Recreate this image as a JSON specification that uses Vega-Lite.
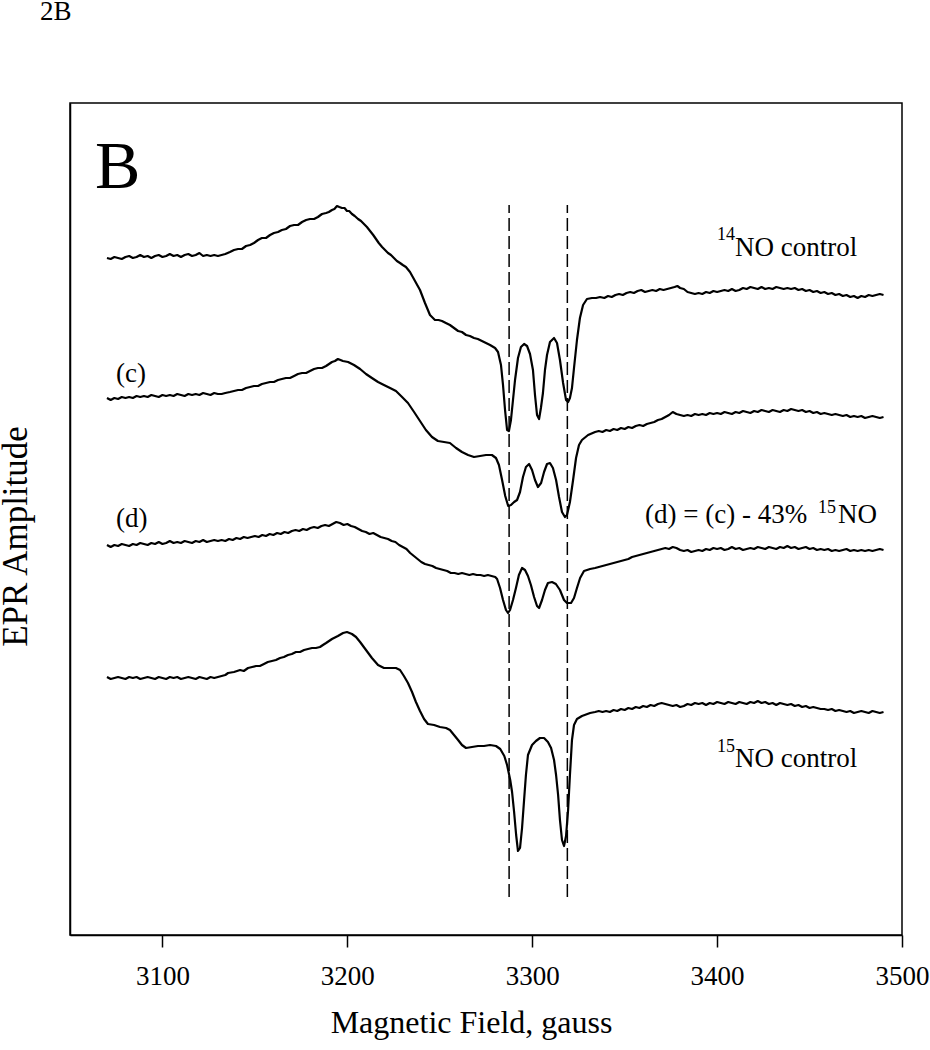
{
"$schema":"https://vega.github.io/schema/vega-lite/v6.json",
"width":832,"height":832,"autosize":"none",
"padding":{"left":70,"top":103,"right":28,"bottom":115},
"background":"white",
"config":{"view":{"stroke":"black","strokeWidth":1.5},"font":"Liberation Serif"},
"datasets":{
"traces":[
{"s":1,"g":3070,"a":677},{"s":1,"g":3072,"a":676},{"s":1,"g":3074,"a":678},{"s":1,"g":3076,"a":677},{"s":1,"g":3078,"a":676},{"s":1,"g":3080,"a":678},{"s":1,"g":3082,"a":679},{"s":1,"g":3084,"a":677},{"s":1,"g":3086,"a":678},{"s":1,"g":3088,"a":680},{"s":1,"g":3090,"a":678},{"s":1,"g":3092,"a":679},{"s":1,"g":3094,"a":677},{"s":1,"g":3096,"a":679},{"s":1,"g":3098,"a":680},{"s":1,"g":3100,"a":678},{"s":1,"g":3102,"a":679},{"s":1,"g":3104,"a":681},{"s":1,"g":3106,"a":679},{"s":1,"g":3108,"a":680},{"s":1,"g":3110,"a":678},{"s":1,"g":3112,"a":680},{"s":1,"g":3114,"a":681},{"s":1,"g":3116,"a":679},{"s":1,"g":3118,"a":680},{"s":1,"g":3120,"a":682},{"s":1,"g":3122,"a":679},{"s":1,"g":3124,"a":680},{"s":1,"g":3126,"a":679},{"s":1,"g":3128,"a":680},{"s":1,"g":3130,"a":679},{"s":1,"g":3132,"a":680},{"s":1,"g":3134,"a":681},
{"s":1,"g":3136.5,"a":683},{"s":1,"g":3138.7,"a":685},{"s":1,"g":3140.9,"a":686},{"s":1,"g":3143,"a":686},{"s":1,"g":3145.2,"a":689},{"s":1,"g":3147.4,"a":690},{"s":1,"g":3149.5,"a":692},{"s":1,"g":3151.7,"a":695},{"s":1,"g":3153.8,"a":697},{"s":1,"g":3156,"a":697},{"s":1,"g":3158.2,"a":700},{"s":1,"g":3160.3,"a":702},{"s":1,"g":3162.5,"a":703},{"s":1,"g":3164.6,"a":705},{"s":1,"g":3166.8,"a":706},{"s":1,"g":3169,"a":709},{"s":1,"g":3171.2,"a":710},{"s":1,"g":3173.3,"a":710},{"s":1,"g":3175.5,"a":713},{"s":1,"g":3177.7,"a":715},{"s":1,"g":3179.8,"a":716},{"s":1,"g":3182,"a":716},{"s":1,"g":3184.1,"a":718},{"s":1,"g":3186.3,"a":721},{"s":1,"g":3188.5,"a":722},{"s":1,"g":3190,"a":723},{"s":1,"g":3191.7,"a":725},{"s":1,"g":3193,"a":726},{"s":1,"g":3194.4,"a":729},{"s":1,"g":3195.7,"a":728},{"s":1,"g":3197.1,"a":727},{"s":1,"g":3198.5,"a":727},{"s":1,"g":3199.8,"a":724},{"s":1,"g":3201,"a":724},{"s":1,"g":3202.5,"a":721},{"s":1,"g":3204,"a":719},{"s":1,"g":3205.8,"a":716},{"s":1,"g":3207.4,"a":714},{"s":1,"g":3209,"a":711},{"s":1,"g":3210.6,"a":708},{"s":1,"g":3212.3,"a":704},{"s":1,"g":3214,"a":700},{"s":1,"g":3215.5,"a":696},{"s":1,"g":3217,"a":692},{"s":1,"g":3218.8,"a":688},{"s":1,"g":3220.4,"a":685},{"s":1,"g":3222,"a":682},{"s":1,"g":3223.6,"a":680},{"s":1,"g":3225.2,"a":677},{"s":1,"g":3226.8,"a":674},{"s":1,"g":3228.5,"a":672},{"s":1,"g":3230,"a":670},{"s":1,"g":3231.7,"a":668},{"s":1,"g":3233.9,"a":663},{"s":1,"g":3236.6,"a":654},{"s":1,"g":3239.3,"a":645},{"s":1,"g":3242,"a":632},{"s":1,"g":3244.7,"a":620},{"s":1,"g":3247.4,"a":615},{"s":1,"g":3249.3,"a":615},{"s":1,"g":3251.2,"a":614},{"s":1,"g":3253.3,"a":612},{"s":1,"g":3255.5,"a":610},{"s":1,"g":3257.7,"a":607},{"s":1,"g":3259.9,"a":604},{"s":1,"g":3262,"a":603},{"s":1,"g":3264.2,"a":600},{"s":1,"g":3266.3,"a":599},{"s":1,"g":3268.5,"a":597},{"s":1,"g":3270.6,"a":596},{"s":1,"g":3272.8,"a":594},{"s":1,"g":3275,"a":592},{"s":1,"g":3277.2,"a":590},{"s":1,"g":3279.9,"a":587},{"s":1,"g":3281.5,"a":583},{"s":1,"g":3283.1,"a":570},{"s":1,"g":3284.2,"a":550},{"s":1,"g":3285.3,"a":525},{"s":1,"g":3286.4,"a":505},{"s":1,"g":3287.4,"a":504},{"s":1,"g":3288.5,"a":515},{"s":1,"g":3289.6,"a":535},{"s":1,"g":3290.7,"a":555},{"s":1,"g":3292.3,"a":577},{"s":1,"g":3293.9,"a":588},{"s":1,"g":3295.6,"a":591},{"s":1,"g":3297.2,"a":589},{"s":1,"g":3298.8,"a":581},{"s":1,"g":3300.4,"a":565},{"s":1,"g":3301.5,"a":540},{"s":1,"g":3302.6,"a":520},{"s":1,"g":3303.7,"a":516},{"s":1,"g":3304.7,"a":527},{"s":1,"g":3305.8,"a":542},{"s":1,"g":3306.9,"a":565},{"s":1,"g":3308,"a":580},{"s":1,"g":3309.6,"a":593},{"s":1,"g":3311.8,"a":597},{"s":1,"g":3313.4,"a":592},{"s":1,"g":3315,"a":575},{"s":1,"g":3316.7,"a":552},{"s":1,"g":3318.3,"a":535},{"s":1,"g":3319.4,"a":533},{"s":1,"g":3320.4,"a":537},{"s":1,"g":3321.5,"a":547},{"s":1,"g":3322.6,"a":567},{"s":1,"g":3324.2,"a":595},{"s":1,"g":3325.8,"a":617},{"s":1,"g":3327.5,"a":630},{"s":1,"g":3329.6,"a":636},{"s":1,"g":3332.3,"a":637},{"s":1,"g":3334.5,"a":637},{"s":1,"g":3336.7,"a":638},
{"s":1,"g":3339,"a":637},{"s":1,"g":3341,"a":639},{"s":1,"g":3343,"a":638},{"s":1,"g":3345,"a":640},{"s":1,"g":3347,"a":641},{"s":1,"g":3349,"a":640},{"s":1,"g":3351,"a":642},{"s":1,"g":3353,"a":643},{"s":1,"g":3355,"a":642},{"s":1,"g":3357,"a":644},{"s":1,"g":3359,"a":645},{"s":1,"g":3361,"a":643},{"s":1,"g":3363,"a":644},{"s":1,"g":3365,"a":645},{"s":1,"g":3367,"a":644},{"s":1,"g":3369,"a":646},{"s":1,"g":3371,"a":645},{"s":1,"g":3373,"a":646},{"s":1,"g":3375,"a":647},{"s":1,"g":3377,"a":648},{"s":1,"g":3378.5,"a":649},{"s":1,"g":3380,"a":647},{"s":1,"g":3382,"a":646},{"s":1,"g":3384,"a":643},{"s":1,"g":3386,"a":642},{"s":1,"g":3388,"a":641},{"s":1,"g":3390,"a":642},{"s":1,"g":3392,"a":641},{"s":1,"g":3394,"a":643},{"s":1,"g":3396,"a":642},{"s":1,"g":3398,"a":644},{"s":1,"g":3400,"a":643},{"s":1,"g":3402,"a":644},{"s":1,"g":3404,"a":645},{"s":1,"g":3406,"a":644},{"s":1,"g":3408,"a":646},{"s":1,"g":3410,"a":644},{"s":1,"g":3412,"a":645},{"s":1,"g":3414,"a":647},{"s":1,"g":3416,"a":646},{"s":1,"g":3418,"a":648},{"s":1,"g":3420,"a":647},{"s":1,"g":3422,"a":646},{"s":1,"g":3424,"a":648},{"s":1,"g":3426,"a":646},{"s":1,"g":3428,"a":647},{"s":1,"g":3430,"a":646},{"s":1,"g":3432,"a":648},{"s":1,"g":3434,"a":647},{"s":1,"g":3436,"a":646},{"s":1,"g":3438,"a":647},{"s":1,"g":3440,"a":646},{"s":1,"g":3442,"a":647},{"s":1,"g":3444,"a":645},{"s":1,"g":3446,"a":646},{"s":1,"g":3448,"a":644},{"s":1,"g":3450,"a":645},{"s":1,"g":3452,"a":643},{"s":1,"g":3454,"a":644},{"s":1,"g":3456,"a":642},{"s":1,"g":3458,"a":643},{"s":1,"g":3460,"a":641},{"s":1,"g":3462,"a":642},{"s":1,"g":3464,"a":640},{"s":1,"g":3466,"a":641},{"s":1,"g":3468,"a":639},{"s":1,"g":3470,"a":640},{"s":1,"g":3472,"a":638},{"s":1,"g":3474,"a":639},{"s":1,"g":3476,"a":637},{"s":1,"g":3478,"a":639},{"s":1,"g":3480,"a":638},{"s":1,"g":3482,"a":640},{"s":1,"g":3484,"a":639},{"s":1,"g":3486,"a":640},{"s":1,"g":3488,"a":641},{"s":1,"g":3490,"a":640},

{"s":2,"g":3070,"a":537},{"s":2,"g":3072,"a":535},{"s":2,"g":3074,"a":537},{"s":2,"g":3076,"a":536},{"s":2,"g":3078,"a":538},{"s":2,"g":3080,"a":537},{"s":2,"g":3082,"a":538},{"s":2,"g":3084,"a":537},{"s":2,"g":3086,"a":539},{"s":2,"g":3088,"a":538},{"s":2,"g":3090,"a":539},{"s":2,"g":3092,"a":538},{"s":2,"g":3094,"a":540},{"s":2,"g":3096,"a":539},{"s":2,"g":3098,"a":538},{"s":2,"g":3100,"a":540},{"s":2,"g":3102,"a":539},{"s":2,"g":3104,"a":540},{"s":2,"g":3106,"a":539},{"s":2,"g":3108,"a":541},{"s":2,"g":3110,"a":540},{"s":2,"g":3112,"a":539},{"s":2,"g":3114,"a":541},{"s":2,"g":3116,"a":540},{"s":2,"g":3118,"a":541},{"s":2,"g":3120,"a":540},{"s":2,"g":3122,"a":542},{"s":2,"g":3124,"a":541},{"s":2,"g":3126,"a":540},{"s":2,"g":3128,"a":542},{"s":2,"g":3130,"a":541},{"s":2,"g":3132,"a":541},{"s":2,"g":3134,"a":542},
{"s":2,"g":3136.5,"a":543},{"s":2,"g":3138.7,"a":544},{"s":2,"g":3140.9,"a":545},{"s":2,"g":3143,"a":545},{"s":2,"g":3145.2,"a":547},{"s":2,"g":3147.4,"a":548},{"s":2,"g":3149.5,"a":549},{"s":2,"g":3151.7,"a":549},{"s":2,"g":3153.8,"a":551},{"s":2,"g":3156,"a":552},{"s":2,"g":3158.2,"a":553},{"s":2,"g":3160.3,"a":553},{"s":2,"g":3162.5,"a":555},{"s":2,"g":3164.6,"a":556},{"s":2,"g":3166.8,"a":557},{"s":2,"g":3169,"a":557},{"s":2,"g":3171.2,"a":559},{"s":2,"g":3173.3,"a":561},{"s":2,"g":3175.5,"a":562},{"s":2,"g":3177.7,"a":562},{"s":2,"g":3179.8,"a":564},{"s":2,"g":3182,"a":566},{"s":2,"g":3184.1,"a":567},{"s":2,"g":3186.3,"a":567},{"s":2,"g":3188.5,"a":569},{"s":2,"g":3190.1,"a":571},{"s":2,"g":3191.7,"a":573},{"s":2,"g":3193.3,"a":574},{"s":2,"g":3194.9,"a":576},{"s":2,"g":3196.3,"a":575},{"s":2,"g":3197.6,"a":574},{"s":2,"g":3200.4,"a":573},{"s":2,"g":3203.6,"a":570},{"s":2,"g":3206.9,"a":566},{"s":2,"g":3210.1,"a":561},{"s":2,"g":3213.3,"a":557},{"s":2,"g":3216.6,"a":553},{"s":2,"g":3219.8,"a":550},{"s":2,"g":3223.1,"a":547},{"s":2,"g":3226.3,"a":544},{"s":2,"g":3229.6,"a":538},{"s":2,"g":3232.8,"a":532},{"s":2,"g":3236.1,"a":523},{"s":2,"g":3239.3,"a":514},{"s":2,"g":3242.5,"a":505},{"s":2,"g":3245.8,"a":498},{"s":2,"g":3249,"a":494},{"s":2,"g":3252.3,"a":493},{"s":2,"g":3255.5,"a":492},{"s":2,"g":3258.8,"a":487},{"s":2,"g":3262,"a":483},{"s":2,"g":3265.3,"a":480},{"s":2,"g":3268.5,"a":478},{"s":2,"g":3271.8,"a":479},{"s":2,"g":3275,"a":480},{"s":2,"g":3278.2,"a":480},{"s":2,"g":3280.4,"a":477},{"s":2,"g":3282,"a":470},{"s":2,"g":3283.7,"a":455},{"s":2,"g":3285.4,"a":439},{"s":2,"g":3287,"a":429},{"s":2,"g":3288.5,"a":430},{"s":2,"g":3290.2,"a":433},{"s":2,"g":3291.8,"a":435},{"s":2,"g":3293.4,"a":443},{"s":2,"g":3295,"a":458},{"s":2,"g":3296.6,"a":468},{"s":2,"g":3298.3,"a":471},{"s":2,"g":3299.9,"a":465},{"s":2,"g":3301.5,"a":455},{"s":2,"g":3303.1,"a":448},{"s":2,"g":3304.8,"a":452},{"s":2,"g":3306.4,"a":463},{"s":2,"g":3308,"a":471},{"s":2,"g":3309.6,"a":472},{"s":2,"g":3311.2,"a":467},{"s":2,"g":3312.9,"a":455},{"s":2,"g":3314.5,"a":438},{"s":2,"g":3316.1,"a":423},{"s":2,"g":3317.7,"a":418},{"s":2,"g":3318.8,"a":420},{"s":2,"g":3320.4,"a":433},{"s":2,"g":3322.1,"a":455},{"s":2,"g":3323.7,"a":477},{"s":2,"g":3325.3,"a":490},{"s":2,"g":3326.9,"a":495},{"s":2,"g":3330.2,"a":500},{"s":2,"g":3334,"a":503},
{"s":2,"g":3336,"a":504},{"s":2,"g":3338,"a":503},{"s":2,"g":3340,"a":505},{"s":2,"g":3342,"a":504},{"s":2,"g":3344,"a":506},{"s":2,"g":3346,"a":505},{"s":2,"g":3348,"a":507},{"s":2,"g":3350,"a":506},{"s":2,"g":3352,"a":508},{"s":2,"g":3354,"a":507},{"s":2,"g":3356,"a":509},{"s":2,"g":3358,"a":510},{"s":2,"g":3360,"a":509},{"s":2,"g":3362,"a":511},{"s":2,"g":3364,"a":512},{"s":2,"g":3366,"a":513},{"s":2,"g":3368,"a":515},{"s":2,"g":3370,"a":516},{"s":2,"g":3372,"a":518},{"s":2,"g":3374,"a":520},{"s":2,"g":3376,"a":523},{"s":2,"g":3378,"a":521},{"s":2,"g":3380,"a":520},{"s":2,"g":3382,"a":519},{"s":2,"g":3384,"a":520},{"s":2,"g":3386,"a":519},{"s":2,"g":3388,"a":521},{"s":2,"g":3390,"a":520},{"s":2,"g":3392,"a":521},{"s":2,"g":3394,"a":520},{"s":2,"g":3396,"a":522},{"s":2,"g":3398,"a":521},{"s":2,"g":3400,"a":522},{"s":2,"g":3402,"a":521},{"s":2,"g":3404,"a":523},{"s":2,"g":3406,"a":522},{"s":2,"g":3408,"a":521},{"s":2,"g":3410,"a":523},{"s":2,"g":3412,"a":522},{"s":2,"g":3414,"a":524},{"s":2,"g":3416,"a":523},{"s":2,"g":3418,"a":522},{"s":2,"g":3420,"a":524},{"s":2,"g":3422,"a":523},{"s":2,"g":3424,"a":525},{"s":2,"g":3426,"a":524},{"s":2,"g":3428,"a":523},{"s":2,"g":3430,"a":525},{"s":2,"g":3432,"a":524},{"s":2,"g":3434,"a":523},{"s":2,"g":3436,"a":525},{"s":2,"g":3438,"a":524},{"s":2,"g":3440,"a":526},{"s":2,"g":3442,"a":525},{"s":2,"g":3444,"a":524},{"s":2,"g":3446,"a":525},{"s":2,"g":3448,"a":523},{"s":2,"g":3450,"a":524},{"s":2,"g":3452,"a":522},{"s":2,"g":3454,"a":523},{"s":2,"g":3456,"a":521},{"s":2,"g":3458,"a":522},{"s":2,"g":3460,"a":521},{"s":2,"g":3462,"a":520},{"s":2,"g":3464,"a":521},{"s":2,"g":3466,"a":520},{"s":2,"g":3468,"a":519},{"s":2,"g":3470,"a":520},{"s":2,"g":3472,"a":518},{"s":2,"g":3474,"a":519},{"s":2,"g":3476,"a":518},{"s":2,"g":3478,"a":519},{"s":2,"g":3480,"a":517},{"s":2,"g":3482,"a":518},{"s":2,"g":3484,"a":519},{"s":2,"g":3486,"a":518},{"s":2,"g":3488,"a":517},{"s":2,"g":3490,"a":518},

{"s":3,"g":3070,"a":390},{"s":3,"g":3072,"a":388},{"s":3,"g":3074,"a":390},{"s":3,"g":3076,"a":389},{"s":3,"g":3078,"a":391},{"s":3,"g":3080,"a":390},{"s":3,"g":3082,"a":389},{"s":3,"g":3084,"a":391},{"s":3,"g":3086,"a":390},{"s":3,"g":3088,"a":392},{"s":3,"g":3090,"a":391},{"s":3,"g":3092,"a":390},{"s":3,"g":3094,"a":392},{"s":3,"g":3096,"a":391},{"s":3,"g":3098,"a":393},{"s":3,"g":3100,"a":391},{"s":3,"g":3102,"a":392},{"s":3,"g":3104,"a":394},{"s":3,"g":3106,"a":392},{"s":3,"g":3108,"a":393},{"s":3,"g":3110,"a":392},{"s":3,"g":3112,"a":394},{"s":3,"g":3114,"a":393},{"s":3,"g":3116,"a":392},{"s":3,"g":3118,"a":394},{"s":3,"g":3120,"a":393},{"s":3,"g":3122,"a":395},{"s":3,"g":3124,"a":393},{"s":3,"g":3126,"a":394},{"s":3,"g":3128,"a":395},{"s":3,"g":3130,"a":394},{"s":3,"g":3132,"a":395},{"s":3,"g":3134,"a":394},{"s":3,"g":3136,"a":396},{"s":3,"g":3138,"a":395},{"s":3,"g":3140,"a":397},{"s":3,"g":3142,"a":396},{"s":3,"g":3144,"a":398},{"s":3,"g":3146,"a":397},{"s":3,"g":3148,"a":398},{"s":3,"g":3150,"a":399},{"s":3,"g":3152,"a":398},{"s":3,"g":3154,"a":400},{"s":3,"g":3156,"a":399},{"s":3,"g":3158,"a":401},{"s":3,"g":3160,"a":400},{"s":3,"g":3162,"a":402},{"s":3,"g":3164,"a":401},{"s":3,"g":3166,"a":403},{"s":3,"g":3168,"a":402},{"s":3,"g":3170,"a":404},{"s":3,"g":3172,"a":405},{"s":3,"g":3174,"a":404},{"s":3,"g":3176,"a":406},{"s":3,"g":3178,"a":405},{"s":3,"g":3180,"a":407},{"s":3,"g":3182,"a":408},{"s":3,"g":3184,"a":407},{"s":3,"g":3186,"a":409},{"s":3,"g":3188,"a":410},{"s":3,"g":3190,"a":409},{"s":3,"g":3192,"a":411},{"s":3,"g":3194,"a":413},{"s":3,"g":3196,"a":412},{"s":3,"g":3198,"a":410},{"s":3,"g":3200,"a":411},{"s":3,"g":3202,"a":409},{"s":3,"g":3204,"a":408},{"s":3,"g":3206,"a":406},{"s":3,"g":3208,"a":404},{"s":3,"g":3210,"a":403},{"s":3,"g":3212,"a":401},{"s":3,"g":3214,"a":402},{"s":3,"g":3216,"a":400},{"s":3,"g":3218,"a":398},{"s":3,"g":3220,"a":397},{"s":3,"g":3222,"a":396},{"s":3,"g":3224,"a":394},{"s":3,"g":3226,"a":393},{"s":3,"g":3228,"a":390},{"s":3,"g":3230,"a":388},{"s":3,"g":3232,"a":386},{"s":3,"g":3234,"a":382},{"s":3,"g":3236,"a":379},{"s":3,"g":3238,"a":376},{"s":3,"g":3240,"a":373},{"s":3,"g":3242,"a":371},{"s":3,"g":3244,"a":370},{"s":3,"g":3246,"a":369},{"s":3,"g":3248,"a":367},{"s":3,"g":3250,"a":366},{"s":3,"g":3252,"a":365},{"s":3,"g":3254,"a":364},{"s":3,"g":3256,"a":362},{"s":3,"g":3258,"a":362},{"s":3,"g":3260,"a":361},{"s":3,"g":3262,"a":362},{"s":3,"g":3264,"a":361},{"s":3,"g":3266,"a":360},{"s":3,"g":3268,"a":361},{"s":3,"g":3270,"a":360},{"s":3,"g":3272,"a":360},{"s":3,"g":3274,"a":359},{"s":3,"g":3276,"a":360},{"s":3,"g":3278,"a":359},{"s":3,"g":3280,"a":358},
{"s":3,"g":3281,"a":356},{"s":3,"g":3282.6,"a":347},{"s":3,"g":3284.2,"a":335},{"s":3,"g":3285.8,"a":325},{"s":3,"g":3286.9,"a":322},{"s":3,"g":3288,"a":325},{"s":3,"g":3289.6,"a":335},{"s":3,"g":3291.2,"a":347},{"s":3,"g":3292.8,"a":360},{"s":3,"g":3294.5,"a":367},{"s":3,"g":3296.1,"a":365},{"s":3,"g":3297.7,"a":359},{"s":3,"g":3299.3,"a":350},{"s":3,"g":3301,"a":338},{"s":3,"g":3302.6,"a":329},{"s":3,"g":3303.7,"a":327},{"s":3,"g":3305.3,"a":335},{"s":3,"g":3306.9,"a":345},{"s":3,"g":3308.5,"a":352},{"s":3,"g":3310.7,"a":353},{"s":3,"g":3312.8,"a":351},{"s":3,"g":3315,"a":345},{"s":3,"g":3317.2,"a":335},{"s":3,"g":3318.8,"a":332},{"s":3,"g":3321,"a":332},{"s":3,"g":3322.6,"a":337},{"s":3,"g":3324.2,"a":347},{"s":3,"g":3325.9,"a":357},{"s":3,"g":3328,"a":364},{"s":3,"g":3331.3,"a":366},
{"s":3,"g":3334,"a":367},{"s":3,"g":3336,"a":368},{"s":3,"g":3338,"a":369},{"s":3,"g":3340,"a":370},{"s":3,"g":3342,"a":371},{"s":3,"g":3344,"a":372},{"s":3,"g":3346,"a":373},{"s":3,"g":3348,"a":374},{"s":3,"g":3350,"a":375},{"s":3,"g":3352,"a":376},{"s":3,"g":3354,"a":378},{"s":3,"g":3356,"a":379},{"s":3,"g":3358,"a":380},{"s":3,"g":3360,"a":381},{"s":3,"g":3362,"a":382},{"s":3,"g":3364,"a":383},{"s":3,"g":3366,"a":384},{"s":3,"g":3368,"a":385},{"s":3,"g":3370,"a":386},{"s":3,"g":3372,"a":387},{"s":3,"g":3374,"a":386},{"s":3,"g":3376,"a":388},{"s":3,"g":3378,"a":387},{"s":3,"g":3380,"a":385},{"s":3,"g":3382,"a":384},{"s":3,"g":3384,"a":385},{"s":3,"g":3386,"a":383},{"s":3,"g":3388,"a":384},{"s":3,"g":3390,"a":385},{"s":3,"g":3392,"a":384},{"s":3,"g":3394,"a":386},{"s":3,"g":3396,"a":385},{"s":3,"g":3398,"a":387},{"s":3,"g":3400,"a":386},{"s":3,"g":3402,"a":387},{"s":3,"g":3404,"a":385},{"s":3,"g":3406,"a":386},{"s":3,"g":3408,"a":388},{"s":3,"g":3410,"a":386},{"s":3,"g":3412,"a":387},{"s":3,"g":3414,"a":385},{"s":3,"g":3416,"a":386},{"s":3,"g":3418,"a":387},{"s":3,"g":3420,"a":386},{"s":3,"g":3422,"a":388},{"s":3,"g":3424,"a":387},{"s":3,"g":3426,"a":386},{"s":3,"g":3428,"a":388},{"s":3,"g":3430,"a":387},{"s":3,"g":3432,"a":386},{"s":3,"g":3434,"a":388},{"s":3,"g":3436,"a":387},{"s":3,"g":3438,"a":389},{"s":3,"g":3440,"a":387},{"s":3,"g":3442,"a":388},{"s":3,"g":3444,"a":386},{"s":3,"g":3446,"a":387},{"s":3,"g":3448,"a":388},{"s":3,"g":3450,"a":386},{"s":3,"g":3452,"a":387},{"s":3,"g":3454,"a":385},{"s":3,"g":3456,"a":386},{"s":3,"g":3458,"a":385},{"s":3,"g":3460,"a":386},{"s":3,"g":3462,"a":384},{"s":3,"g":3464,"a":385},{"s":3,"g":3466,"a":384},{"s":3,"g":3468,"a":385},{"s":3,"g":3470,"a":386},{"s":3,"g":3472,"a":384},{"s":3,"g":3474,"a":385},{"s":3,"g":3476,"a":384},{"s":3,"g":3478,"a":385},{"s":3,"g":3480,"a":384},{"s":3,"g":3482,"a":385},{"s":3,"g":3484,"a":384},{"s":3,"g":3486,"a":385},{"s":3,"g":3488,"a":386},{"s":3,"g":3490,"a":385},

{"s":4,"g":3070,"a":258},{"s":4,"g":3072,"a":256},{"s":4,"g":3074,"a":257},{"s":4,"g":3076,"a":258},{"s":4,"g":3078,"a":257},{"s":4,"g":3080,"a":256},{"s":4,"g":3082,"a":258},{"s":4,"g":3084,"a":257},{"s":4,"g":3086,"a":258},{"s":4,"g":3088,"a":256},{"s":4,"g":3090,"a":257},{"s":4,"g":3092,"a":258},{"s":4,"g":3094,"a":257},{"s":4,"g":3096,"a":256},{"s":4,"g":3098,"a":258},{"s":4,"g":3100,"a":257},{"s":4,"g":3102,"a":256},{"s":4,"g":3104,"a":258},{"s":4,"g":3106,"a":257},{"s":4,"g":3108,"a":258},{"s":4,"g":3110,"a":256},{"s":4,"g":3112,"a":257},{"s":4,"g":3114,"a":258},{"s":4,"g":3116,"a":257},{"s":4,"g":3118,"a":256},{"s":4,"g":3120,"a":258},{"s":4,"g":3122,"a":257},{"s":4,"g":3124,"a":256},{"s":4,"g":3126,"a":258},{"s":4,"g":3128,"a":257},{"s":4,"g":3130,"a":258},{"s":4,"g":3132,"a":259},{"s":4,"g":3134,"a":260},
{"s":4,"g":3135.5,"a":262},{"s":4,"g":3138.7,"a":263},{"s":4,"g":3142,"a":265},{"s":4,"g":3144,"a":264},{"s":4,"g":3146.3,"a":267},{"s":4,"g":3148.5,"a":268},{"s":4,"g":3150.6,"a":269},{"s":4,"g":3152.7,"a":269},{"s":4,"g":3154.9,"a":271},{"s":4,"g":3157,"a":273},{"s":4,"g":3159.2,"a":274},{"s":4,"g":3161.4,"a":275},{"s":4,"g":3163.6,"a":277},{"s":4,"g":3165.7,"a":278},{"s":4,"g":3167.9,"a":280},{"s":4,"g":3170,"a":281},{"s":4,"g":3172.2,"a":283},{"s":4,"g":3174.4,"a":283},{"s":4,"g":3176.6,"a":285},{"s":4,"g":3178.7,"a":286},{"s":4,"g":3180.9,"a":287},{"s":4,"g":3183,"a":287},{"s":4,"g":3185.2,"a":288},{"s":4,"g":3186.8,"a":290},{"s":4,"g":3188.5,"a":292},{"s":4,"g":3191.7,"a":296},{"s":4,"g":3194.9,"a":299},{"s":4,"g":3197.7,"a":302},{"s":4,"g":3199.8,"a":303},{"s":4,"g":3202.5,"a":301},{"s":4,"g":3204.7,"a":298},{"s":4,"g":3206.9,"a":293},{"s":4,"g":3210.1,"a":285},{"s":4,"g":3213.3,"a":277},{"s":4,"g":3216.6,"a":270},{"s":4,"g":3219.8,"a":267},{"s":4,"g":3223.1,"a":267},{"s":4,"g":3226.3,"a":267},{"s":4,"g":3228.5,"a":265},{"s":4,"g":3230.6,"a":259},{"s":4,"g":3232.8,"a":252},{"s":4,"g":3235,"a":243},{"s":4,"g":3237.1,"a":233},{"s":4,"g":3239.3,"a":224},{"s":4,"g":3241.5,"a":216},{"s":4,"g":3243.6,"a":211},{"s":4,"g":3246.9,"a":210},{"s":4,"g":3250.1,"a":208},{"s":4,"g":3253.4,"a":207},{"s":4,"g":3255.5,"a":205},{"s":4,"g":3257.7,"a":200},{"s":4,"g":3259.9,"a":195},{"s":4,"g":3262,"a":190},{"s":4,"g":3264.2,"a":187},{"s":4,"g":3267.4,"a":188},{"s":4,"g":3270.7,"a":189},{"s":4,"g":3273.9,"a":189},{"s":4,"g":3277.2,"a":190},{"s":4,"g":3280.4,"a":189},{"s":4,"g":3282.7,"a":186},{"s":4,"g":3284.9,"a":179},{"s":4,"g":3286.4,"a":170},{"s":4,"g":3288.1,"a":155},{"s":4,"g":3289.1,"a":143},{"s":4,"g":3290.2,"a":123},{"s":4,"g":3291.3,"a":100},{"s":4,"g":3292.3,"a":84},{"s":4,"g":3293.4,"a":87},{"s":4,"g":3294.5,"a":107},{"s":4,"g":3295.6,"a":135},{"s":4,"g":3296.6,"a":160},{"s":4,"g":3297.7,"a":180},{"s":4,"g":3299.9,"a":190},{"s":4,"g":3302,"a":194},{"s":4,"g":3304.2,"a":197},{"s":4,"g":3306.4,"a":197},{"s":4,"g":3308.5,"a":193},{"s":4,"g":3310.2,"a":187},{"s":4,"g":3311.8,"a":175},{"s":4,"g":3312.9,"a":160},{"s":4,"g":3314,"a":140},{"s":4,"g":3315,"a":115},{"s":4,"g":3316.1,"a":95},{"s":4,"g":3317.2,"a":89},{"s":4,"g":3318.3,"a":99},{"s":4,"g":3319.4,"a":125},{"s":4,"g":3320.4,"a":160},{"s":4,"g":3321.5,"a":195},{"s":4,"g":3322.6,"a":210},{"s":4,"g":3324.2,"a":216},{"s":4,"g":3326.9,"a":219},{"s":4,"g":3331.3,"a":222},
{"s":4,"g":3334,"a":223},{"s":4,"g":3336,"a":224},{"s":4,"g":3338,"a":223},{"s":4,"g":3340,"a":224},{"s":4,"g":3342,"a":223},{"s":4,"g":3344,"a":225},{"s":4,"g":3346,"a":224},{"s":4,"g":3348,"a":226},{"s":4,"g":3350,"a":225},{"s":4,"g":3352,"a":227},{"s":4,"g":3354,"a":226},{"s":4,"g":3356,"a":228},{"s":4,"g":3358,"a":227},{"s":4,"g":3360,"a":229},{"s":4,"g":3362,"a":228},{"s":4,"g":3364,"a":230},{"s":4,"g":3366,"a":229},{"s":4,"g":3368,"a":231},{"s":4,"g":3370,"a":232},{"s":4,"g":3372,"a":231},{"s":4,"g":3374,"a":230},{"s":4,"g":3376,"a":229},{"s":4,"g":3378,"a":230},{"s":4,"g":3380,"a":228},{"s":4,"g":3382,"a":229},{"s":4,"g":3384,"a":231},{"s":4,"g":3386,"a":230},{"s":4,"g":3388,"a":232},{"s":4,"g":3390,"a":231},{"s":4,"g":3392,"a":232},{"s":4,"g":3394,"a":230},{"s":4,"g":3396,"a":232},{"s":4,"g":3398,"a":231},{"s":4,"g":3400,"a":233},{"s":4,"g":3402,"a":232},{"s":4,"g":3404,"a":231},{"s":4,"g":3406,"a":233},{"s":4,"g":3408,"a":232},{"s":4,"g":3410,"a":231},{"s":4,"g":3412,"a":233},{"s":4,"g":3414,"a":232},{"s":4,"g":3416,"a":231},{"s":4,"g":3418,"a":233},{"s":4,"g":3420,"a":232},{"s":4,"g":3422,"a":234},{"s":4,"g":3424,"a":232},{"s":4,"g":3426,"a":233},{"s":4,"g":3428,"a":231},{"s":4,"g":3430,"a":232},{"s":4,"g":3432,"a":230},{"s":4,"g":3434,"a":232},{"s":4,"g":3436,"a":231},{"s":4,"g":3438,"a":230},{"s":4,"g":3440,"a":231},{"s":4,"g":3442,"a":229},{"s":4,"g":3444,"a":230},{"s":4,"g":3446,"a":228},{"s":4,"g":3448,"a":229},{"s":4,"g":3450,"a":227},{"s":4,"g":3452,"a":228},{"s":4,"g":3454,"a":227},{"s":4,"g":3456,"a":226},{"s":4,"g":3458,"a":226},{"s":4,"g":3460,"a":225},{"s":4,"g":3462,"a":226},{"s":4,"g":3464,"a":224},{"s":4,"g":3466,"a":225},{"s":4,"g":3468,"a":224},{"s":4,"g":3470,"a":223},{"s":4,"g":3472,"a":224},{"s":4,"g":3474,"a":222},{"s":4,"g":3476,"a":223},{"s":4,"g":3478,"a":224},{"s":4,"g":3480,"a":223},{"s":4,"g":3482,"a":222},{"s":4,"g":3484,"a":224},{"s":4,"g":3486,"a":223},{"s":4,"g":3488,"a":222},{"s":4,"g":3490,"a":223}
],
"rules":[{"g":3287.5,"a":38,"a2":730},{"g":3319,"a":38,"a2":730}],
"labels":[{"g":3074.9,"a":553,"t":"(c)"},{"g":3074.9,"a":408.5,"t":"(d)"},{"g":3409.7,"a":679,"t":"NO control"},{"g":3361,"a":412,"t":"(d) = (c) - 43%"},{"g":3465.4,"a":412,"t":"NO"},{"g":3409.7,"a":168,"t":"NO control"},{"g":3033.8,"a":915,"t":"2B"}],
"sups":[{"g":3399.9,"a":695,"t":"14"},{"g":3454.6,"a":422,"t":"15"},{"g":3399.9,"a":183,"t":"15"}],
"big":[{"g":3063.5,"a":747,"t":"B"}]
},
"encoding":{
"x":{"field":"g","type":"quantitative","scale":{"domain":[3050,3500],"nice":false,"zero":false},
"axis":{"title":"Magnetic Field, gauss","values":[3100,3200,3300,3400,3500],"format":"d","grid":false,"tickSize":12,"tickWidth":1.5,"tickColor":"black","domainColor":"black","domainWidth":1.5,"labelFont":"Liberation Serif","labelFontSize":27,"labelColor":"black","labelPadding":16,"labelFlush":false,"titleFont":"Liberation Serif","titleFontSize":32,"titleFontWeight":"normal","titleColor":"black","titlePadding":18,"titleX":401}},
"y":{"field":"a","type":"quantitative","scale":{"domain":[0,832],"nice":false,"zero":false},
"axis":{"title":"EPR Amplitude","grid":false,"ticks":false,"labels":false,"domainColor":"black","domainWidth":1.5,"titleFont":"Liberation Serif","titleFontSize":35,"titleFontWeight":"normal","titleColor":"black","titlePadding":37,"titleY":433}}
},
"layer":[
{"data":{"name":"traces"},"mark":{"type":"line","color":"black","strokeWidth":2.2,"strokeJoin":"round"},"encoding":{"detail":{"field":"s","type":"nominal"}}},
{"data":{"name":"rules"},"mark":{"type":"rule","color":"black","strokeWidth":1.5,"strokeDash":[13,5]},"encoding":{"y2":{"field":"a2"}}},
{"data":{"name":"labels"},"mark":{"type":"text","align":"left","baseline":"alphabetic","font":"Liberation Serif","fontSize":27,"color":"black"},"encoding":{"text":{"field":"t","type":"nominal"}}},
{"data":{"name":"sups"},"mark":{"type":"text","align":"left","baseline":"alphabetic","font":"Liberation Serif","fontSize":18,"color":"black"},"encoding":{"text":{"field":"t","type":"nominal"}}},
{"data":{"name":"big"},"mark":{"type":"text","align":"left","baseline":"alphabetic","font":"Liberation Serif","fontSize":68,"color":"black"},"encoding":{"text":{"field":"t","type":"nominal"}}}
]
}
